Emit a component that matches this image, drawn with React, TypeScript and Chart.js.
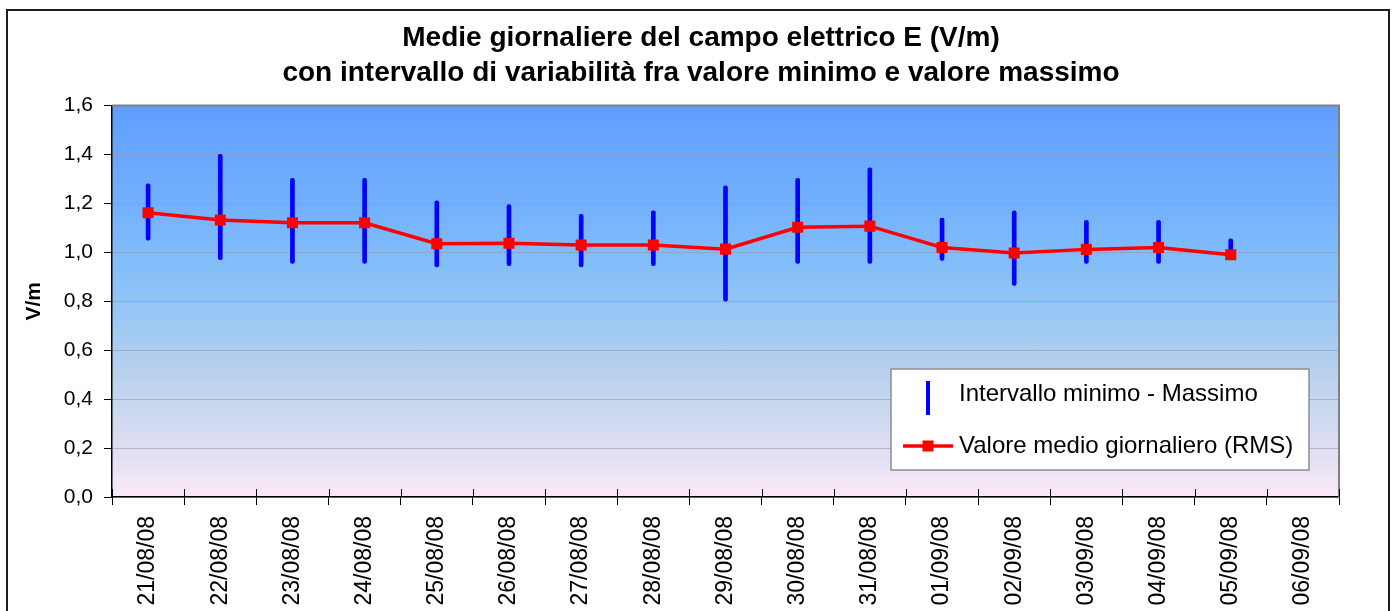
import React, { useEffect, useRef } from "react";
import { Chart, registerables } from "chart.js";

Chart.register(...registerables);

const categories = [
  "21/08/08", "22/08/08", "23/08/08", "24/08/08", "25/08/08", "26/08/08",
  "27/08/08", "28/08/08", "29/08/08", "30/08/08", "31/08/08", "01/09/08",
  "02/09/08", "03/09/08", "04/09/08", "05/09/08", "06/09/08",
];
const rangeMin = [1.05, 0.97, 0.955, 0.955, 0.94, 0.945, 0.94, 0.945, 0.8, 0.955, 0.955, 0.967, 0.865, 0.955, 0.955, 0.975, null];
const rangeMax = [1.28, 1.4, 1.302, 1.302, 1.21, 1.195, 1.155, 1.17, 1.272, 1.302, 1.345, 1.14, 1.17, 1.131, 1.131, 1.055, null];
const dailyMean = [1.162, 1.132, 1.121, 1.121, 1.035, 1.037, 1.03, 1.03, 1.013, 1.102, 1.107, 1.02, 0.997, 1.012, 1.02, 0.99, null];
const yTickLabels = ["0,0", "0,2", "0,4", "0,6", "0,8", "1,0", "1,2", "1,4", "1,6"];

const titleLines = [
  "Medie giornaliere del campo elettrico E (V/m)",
  "con intervallo di variabilità fra valore minimo e valore massimo",
];
const yAxisTitle = "V/m";
const legendRange = "Intervallo minimo - Massimo";
const legendMean = "Valore medio giornaliero (RMS)";

const FONT = "'Liberation Sans', Arial, sans-serif";

const decorPlugin = {
  id: "decor",
  beforeDraw(chart: any) {
    const { ctx, chartArea: a, width, height } = chart;
    ctx.save();
    ctx.fillStyle = "#ffffff";
    ctx.fillRect(0, 0, width, height);
    const g = ctx.createLinearGradient(0, a.top, 0, a.bottom);
    g.addColorStop(0, "#5f9eff");
    g.addColorStop(0.25, "#72b0fd");
    g.addColorStop(0.4, "#82bef9");
    g.addColorStop(0.52, "#95c6f6");
    g.addColorStop(0.65, "#b3cfee");
    g.addColorStop(0.78, "#cbd8ef");
    g.addColorStop(0.9, "#e3e0f4");
    g.addColorStop(1, "#fce9f8");
    ctx.fillStyle = g;
    ctx.fillRect(a.left, a.top, a.right - a.left, a.bottom - a.top);
    ctx.strokeStyle = "#1e1e1e";
    ctx.lineWidth = 2;
    ctx.strokeRect(7, 10, 1382, height - 14);
    ctx.restore();
  },
  beforeDatasetsDraw(chart: any) {
    const { ctx, chartArea: a } = chart;
    const xs = chart.scales.x;
    ctx.save();
    ctx.strokeStyle = "#808080";
    ctx.lineWidth = 2;
    ctx.beginPath();
    ctx.moveTo(a.left, a.top);
    ctx.lineTo(a.right, a.top);
    ctx.lineTo(a.right, a.bottom);
    ctx.stroke();
    const half = (xs.getPixelForValue(1) - xs.getPixelForValue(0)) / 2;
    ctx.strokeStyle = "#000";
    ctx.lineWidth = 1;
    ctx.beginPath();
    for (let i = 0; i <= categories.length; i++) {
      const px = Math.round(xs.getPixelForValue(i) - half) + 0.5;
      ctx.moveTo(px, a.bottom - 8);
      ctx.lineTo(px, a.bottom);
    }
    ctx.stroke();
    ctx.restore();
  },
  afterDraw(chart: any) {
    const { ctx, chartArea: a } = chart;
    const right = a.right - 30;
    const bottom = a.bottom - 27;
    const w = 418;
    const h = 101;
    const left = right - w;
    const top = bottom - h;
    ctx.save();
    ctx.fillStyle = "#ffffff";
    ctx.fillRect(left, top, w, h);
    ctx.strokeStyle = "#8c8c8c";
    ctx.lineWidth = 1.5;
    ctx.strokeRect(left, top, w, h);
    const symX = left + 37;
    const row1 = top + 25;
    const row2 = top + 77;
    ctx.fillStyle = "#0000ff";
    ctx.fillRect(symX - 2, row1 - 13, 4, 34);
    ctx.strokeStyle = "#ff0000";
    ctx.lineWidth = 3.5;
    ctx.beginPath();
    ctx.moveTo(symX - 25, row2);
    ctx.lineTo(symX + 25, row2);
    ctx.stroke();
    ctx.fillStyle = "#ff0000";
    ctx.fillRect(symX - 5.5, row2 - 5.5, 11, 11);
    ctx.fillStyle = "#000";
    ctx.font = `24px ${FONT}`;
    ctx.textBaseline = "middle";
    ctx.textAlign = "left";
    ctx.fillText(legendRange, left + 68, row1);
    ctx.fillText(legendMean, left + 68, row2);
    ctx.restore();
  },
};

export default function App() {
  const ref = useRef<HTMLCanvasElement>(null);
  useEffect(() => {
    if (!ref.current) return;
    const rangeData = categories.map((_, i) =>
      rangeMin[i] == null || rangeMax[i] == null ? null : [rangeMin[i], rangeMax[i]]
    );
    const chart = new Chart(ref.current, {
      type: "bar",
      data: {
        labels: categories,
        datasets: [
          {
            type: "line",
            label: legendMean,
            data: dailyMean as any,
            borderColor: "#ff0000",
            backgroundColor: "#ff0000",
            borderWidth: 3.5,
            pointStyle: "rect",
            pointRadius: 7.8,
            pointBorderWidth: 0,
            pointBackgroundColor: "#ff0000",
            tension: 0,
            order: 0,
          } as any,
          {
            type: "bar",
            label: legendRange,
            data: rangeData as any,
            backgroundColor: "#0000ff",
            barThickness: 4,
            borderRadius: 2,
            borderSkipped: false,
            order: 1,
          } as any,
        ],
      },
      options: {
        animation: false,
        responsive: true,
        maintainAspectRatio: false,
        layout: { padding: { left: 10, right: 0, top: 0, bottom: 0 } },
        plugins: {
          legend: { display: false },
          tooltip: { enabled: false },
          title: {
            display: true,
            text: titleLines,
            color: "#000",
            font: { family: FONT, size: 28, weight: "bold", lineHeight: 1.25 },
            padding: { top: 20.5, bottom: 15 },
          },
        },
        scales: {
          x: {
            offset: true,
            grid: {
              display: true,
              offset: true,
              drawOnChartArea: false,
              drawTicks: true,
              tickLength: 8,
              tickColor: "#000",
            },
            border: { display: true, color: "#000", width: 1.5 },
            ticks: {
              autoSkip: false,
              minRotation: 90,
              maxRotation: 90,
              padding: 11,
              color: "#000",
              font: { family: FONT, size: 23 },
            },
            afterFit(s: any) {
              s.height = 143;
            },
          },
          y: {
            min: 0,
            max: 1.6,
            ticks: {
              stepSize: 0.2,
              padding: 11,
              color: "#000",
              font: { family: FONT, size: 21 },
              callback: (_v: any, i: number) => yTickLabels[i],
            },
            grid: {
              color: "rgba(150,155,170,0.6)",
              lineWidth: 1,
              tickLength: 8,
              tickColor: "#000",
            },
            border: { display: true, color: "#000", width: 1.5 },
            title: {
              display: true,
              text: yAxisTitle,
              color: "#000",
              font: { family: FONT, size: 21, weight: "bold" },
              padding: { top: 12, bottom: 0 },
            },
            afterFit(s: any) {
              s.width = 102;
            },
          },
          y2: {
            type: "linear",
            position: "right",
            display: true,
            grid: { display: false },
            ticks: { display: false },
            border: { display: false },
            afterFit(s: any) {
              s.width = 53;
            },
          },
        },
      } as any,
      plugins: [decorPlugin],
    });
    return () => chart.destroy();
  }, []);
  return (
    <div
      style={{
        position: "fixed",
        left: 0,
        top: 0,
        width: 1392,
        height: 640,
        overflow: "hidden",
        background: "#fff",
      }}
    >
      <canvas ref={ref} />
    </div>
  );
}
